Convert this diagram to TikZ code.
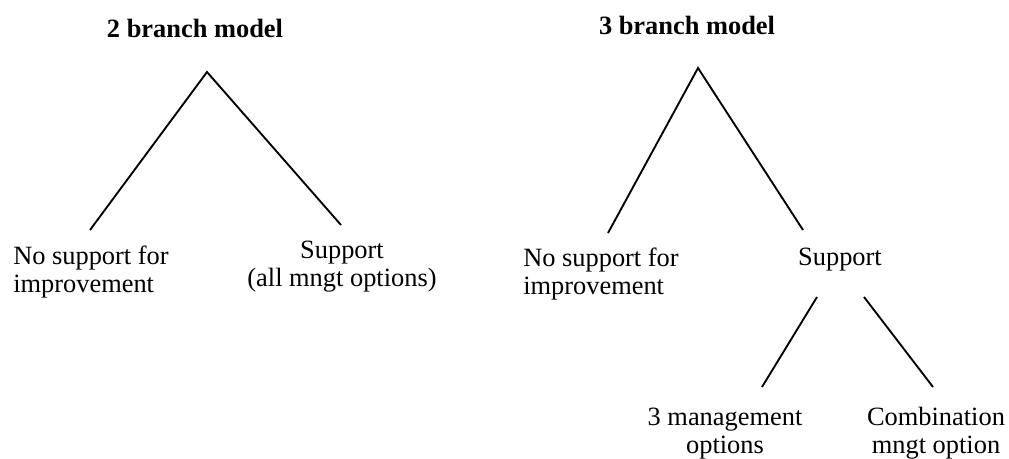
\documentclass[tikz,border=0pt]{standalone}
\usepackage{fontspec}
\setmainfont{Liberation Serif}
\begin{document}
\begin{tikzpicture}[x=0.75pt,y=-0.75pt,
  lbl/.style={inner sep=0pt,font=\fontsize{19.8}{21}\selectfont},
  ttl/.style={inner sep=0pt,anchor=base,font=\fontsize{19.8}{21}\selectfont\bfseries},
  branch/.style={line width=1.4pt}]
\useasboundingbox (0,0) rectangle (1009,459);
% titles
\node[ttl] (t2) at (195,38) {2 branch model};
\node[ttl] (t3) at (687,35) {3 branch model};
% left tree
\coordinate (a2) at (207,72);
\coordinate (e2l) at (90,230);
\coordinate (e2r) at (341,225);
\node[lbl,anchor=base west] (n2) at (13,265) {\begin{tabular}[t]{@{}l@{}}No support for\\improvement\end{tabular}};
\node[lbl,anchor=base] (s2) at (342,259) {\begin{tabular}[t]{@{}c@{}}Support\\(all mngt options)\end{tabular}};
\draw[branch] (e2l) -- (a2) -- (e2r);
% right tree
\coordinate (a3) at (698,68);
\coordinate (e3l) at (608,233);
\coordinate (e3r) at (803,230);
\node[lbl,anchor=base west] (n3) at (523,267) {\begin{tabular}[t]{@{}l@{}}No support for\\improvement\end{tabular}};
\node[lbl,anchor=base] (s3) at (840,266) {Support};
\draw[branch] (e3l) -- (a3) -- (e3r);
% sub-branches
\coordinate (b1t) at (817,297);
\coordinate (b1e) at (762,387);
\coordinate (b2t) at (864,297);
\coordinate (b2e) at (933,387);
\node[lbl,anchor=base] (m3) at (725,425) {\begin{tabular}[t]{@{}c@{}}3 management\\options\end{tabular}};
\node[lbl,anchor=base] (c3) at (936,425) {\begin{tabular}[t]{@{}c@{}}Combination\\mngt option\end{tabular}};
\draw[branch] (b1t) -- (b1e);
\draw[branch] (b2t) -- (b2e);
\end{tikzpicture}
\end{document}
